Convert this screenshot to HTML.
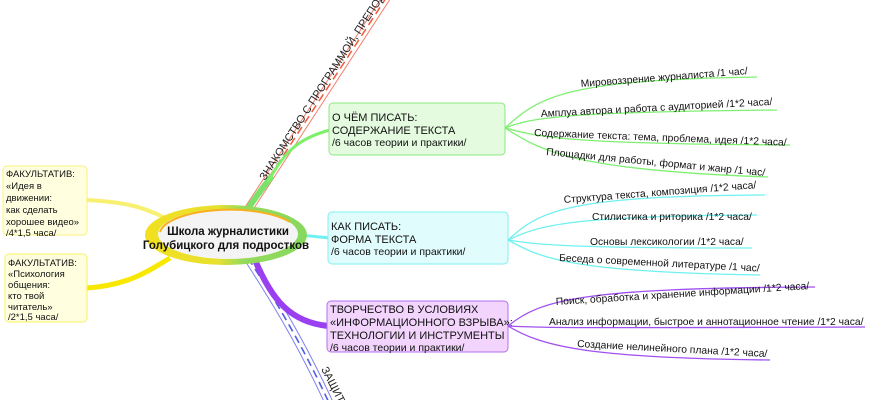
<!DOCTYPE html>
<html><head><meta charset="utf-8"><style>
html,body{margin:0;padding:0;background:#fff;}
svg{display:block;font-family:"Liberation Sans","DejaVu Sans",sans-serif;}
</style></head><body>
<svg width="870" height="400" viewBox="0 0 870 400" xmlns="http://www.w3.org/2000/svg">
<defs>
<linearGradient id="g1" x1="0" x2="1" y1="0" y2="0">
<stop offset="0" stop-color="#f2e020"/><stop offset="0.45" stop-color="#e8e030"/><stop offset="0.6" stop-color="#96da5a"/><stop offset="1" stop-color="#86d85e"/>
</linearGradient>
</defs>
<!-- red top branch -->
<path d="M248,210 C280,160 320,100 388,-5" fill="none" stroke="#f08070" stroke-width="9"/>
<path d="M248,210 C280,160 320,100 388,-5" fill="none" stroke="#fff" stroke-width="7"/>
<path d="M248,210 C280,160 320,100 388,-5" fill="none" stroke="#f06040" stroke-width="1.6" stroke-dasharray="8,5"/>
<path d="M246,212 C256,196 264,186 272,176" fill="none" stroke="#7de06a" stroke-width="6"/>
<text transform="translate(265,181) rotate(-57)" font-size="11" fill="#222">ЗНАКОМСТВО С ПРОГРАММОЙ, ПРЕПОДАВАТЕЛЕМ</text>
<!-- blue bottom branch -->
<path d="M248,258 C275,300 300,340 330,405" fill="none" stroke="#8080f0" stroke-width="9"/>
<path d="M248,258 C275,300 300,340 330,405" fill="none" stroke="#fff" stroke-width="7"/>
<path d="M248,258 C275,300 300,340 330,405" fill="none" stroke="#5060e0" stroke-width="1.6" stroke-dasharray="8,5"/>
<text transform="translate(321,369) rotate(63)" font-size="11" fill="#222">ЗАЩИТА</text>
<!-- green connector -->
<path d="M268,182 C285,150 300,138 330,130" fill="none" stroke="#7df06a" stroke-width="3"/>
<!-- cyan connector -->
<path d="M300,235 L330,238" stroke="#70f0f0" stroke-width="3"/>
<!-- purple connector -->
<path d="M255,260 C272,300 290,322 328,326" fill="none" stroke="#9a40f0" stroke-width="6"/>
<!-- yellow connectors -->
<path d="M87,200 C120,202 140,205 165,218" fill="none" stroke="#f8f070" stroke-width="4"/>
<path d="M87,288 C130,285 150,270 170,258" fill="none" stroke="#f8e800" stroke-width="5"/>
<!-- central -->
<ellipse cx="226" cy="235" rx="81" ry="30" fill="url(#g1)"/>
<ellipse cx="228" cy="234" rx="70" ry="25" fill="#f4f4f4"/>
<path d="M160,232 A70,25 0 0 1 290,222" fill="none" stroke="#f8b020" stroke-width="2"/>
<text x="228" y="235" font-size="11.5" font-weight="bold" text-anchor="middle" fill="#111">Школа журналистики</text>
<text x="226" y="249" font-size="11.5" font-weight="bold" text-anchor="middle" fill="#111">Голубицкого для подростков</text>
<!-- left boxes -->
<rect x="3" y="166" width="84" height="69" rx="4" fill="#ffffe0" stroke="#f8f080"/>
<g font-size="9.5" fill="#111">
<text x="6" y="177">ФАКУЛЬТАТИВ:</text><text x="6" y="189">«Идея в</text><text x="6" y="201">движении:</text><text x="6" y="213">как сделать</text><text x="6" y="225">хорошее видео»</text><text x="6" y="236">/4*1,5 часа/</text>
</g>
<rect x="5" y="254" width="82" height="68" rx="4" fill="#ffffe0" stroke="#f8f060"/>
<g font-size="9.5" fill="#111">
<text x="8" y="266">ФАКУЛЬТАТИВ:</text><text x="8" y="277">«Психология</text><text x="8" y="288">общения:</text><text x="8" y="299">кто твой</text><text x="8" y="310">читатель»</text><text x="8" y="320">/2*1,5 часа/</text>
</g>
<!-- main boxes -->
<rect x="329" y="103" width="176" height="52" rx="4" fill="#e4fbe0" stroke="#8ce880"/>
<g font-size="11" fill="#111"><text x="332" y="121">О ЧЁМ ПИСАТЬ:</text><text x="332" y="134">СОДЕРЖАНИЕ ТЕКСТА</text><text x="332" y="146" font-size="10.5">/6 часов теории и практики/</text></g>
<rect x="328" y="212" width="180" height="52" rx="4" fill="#e0fcfc" stroke="#80f0f0"/>
<g font-size="11" fill="#111"><text x="331" y="230">КАК ПИСАТЬ:</text><text x="331" y="243">ФОРМА ТЕКСТА</text><text x="331" y="255" font-size="10.5">/6 часов теории и практики/</text></g>
<rect x="327" y="301" width="181" height="51" rx="4" fill="#f2d4fc" stroke="#b070f0"/>
<g font-size="11" fill="#111"><text x="330" y="313">ТВОРЧЕСТВО В УСЛОВИЯХ</text><text x="330" y="326">«ИНФОРМАЦИОННОГО ВЗРЫВА»:</text><text x="330" y="339">ТЕХНОЛОГИИ И ИНСТРУМЕНТЫ</text><text x="330" y="351" font-size="10.5">/6 часов теории и практики/</text></g>
<!-- green leaves -->
<g fill="none" stroke="#7ef070" stroke-width="1.3">
<path d="M505,128 C540,95 570,80 757,77"/>
<path d="M505,128 C530,118 560,112 777,110"/>
<path d="M505,128 C540,138 580,144 790,145"/>
<path d="M505,128 C540,150 570,170 768,177"/>
</g>
<g font-size="10.3" fill="#111">
<text transform="translate(581,87) rotate(-4.4)">Мировоззрение журналиста /1 час/</text>
<text transform="translate(541,117) rotate(-3)">Амплуа автора и работа с аудиторией /1*2 часа/</text>
<text transform="translate(534,136) rotate(2.2)">Содержание текста: тема, проблема, идея /1*2 часа/</text>
<text transform="translate(546,155) rotate(5.5)">Площадки для работы, формат и жанр /1 час/</text>
</g>
<!-- cyan leaves -->
<g fill="none" stroke="#70f0f0" stroke-width="1.3">
<path d="M508,240 C540,210 570,196 765,195"/>
<path d="M508,240 C540,225 570,216 757,215"/>
<path d="M508,240 C540,245 570,248 752,248"/>
<path d="M508,240 C540,258 570,272 760,275"/>
</g>
<g font-size="10.3" fill="#111">
<text transform="translate(564,203) rotate(-4.4)">Структура текста, композиция /1*2 часа/</text>
<text x="592" y="220">Стилистика и риторика /1*2 часа/</text>
<text x="590" y="245">Основы лексикологии /1*2 часа/</text>
<text transform="translate(559,261) rotate(3)">Беседа о современной литературе /1 час/</text>
</g>
<!-- purple leaves -->
<g fill="none" stroke="#a050f0" stroke-width="1.3">
<path d="M508,326 C540,300 580,288 815,287"/>
<path d="M508,326 C540,328 580,328 865,327"/>
<path d="M508,326 C540,345 580,358 770,360"/>
</g>
<g font-size="10.3" fill="#111">
<text transform="translate(556,305) rotate(-3.6)">Поиск, обработка и хранение информации /1*2 часа/</text>
<text x="549" y="325">Анализ информации, быстрое и аннотационное чтение /1*2 часа/</text>
<text transform="translate(577,347) rotate(3)">Создание нелинейного плана /1*2 часа/</text>
</g>
</svg>
</body></html>
